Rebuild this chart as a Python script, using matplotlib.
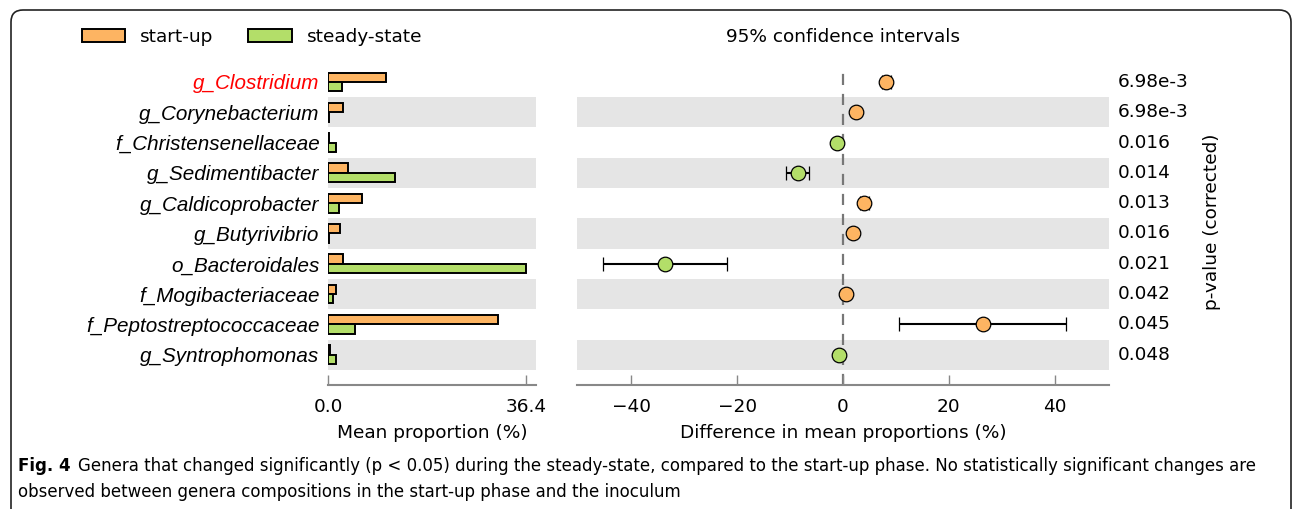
import numpy as np
import matplotlib
matplotlib.use('Agg')
import matplotlib.pyplot as plt
from matplotlib.patches import FancyBboxPatch, Patch

taxa = ['g_Clostridium', 'g_Corynebacterium', 'f_Christensenellaceae', 'g_Sedimentibacter',
        'g_Caldicoprobacter', 'g_Butyrivibrio', 'o_Bacteroidales', 'f_Mogibacteriaceae',
        'f_Peptostreptococcaceae', 'g_Syntrophomonas']
startup = [10.7, 2.7, 0.2, 3.7, 6.2, 2.2, 2.7, 1.4, 31.3, 0.3]
steady = [2.6, 0.1, 1.4, 12.3, 2.1, 0.1, 36.4, 0.9, 4.9, 1.4]
diff = [8.1, 2.5, -1.2, -8.6, 4.0, 1.8, -33.7, 0.6, 26.4, -0.8]
ci_low = [7.3, 2.1, -1.5, -10.7, 3.2, 1.5, -45.4, 0.3, 10.6, -1.1]
ci_high = [9.1, 2.9, -0.9, -6.5, 5.0, 2.1, -22.0, 0.9, 42.2, -0.5]
pvals = ['6.98e-3', '6.98e-3', '0.016', '0.014', '0.013', '0.016', '0.021', '0.042', '0.045', '0.048']

c_start = '#fdb462'
c_steady = '#b3de69'
band = '#e5e5e5'
spine_c = '#888888'
fs = 13.3

W, H = 1296, 509
fig = plt.figure(figsize=(W / 100, H / 100), dpi=100)

def fx(px):
    return px / W

def fy(py):
    return 1 - py / H

# rounded frame (drawn in inches), bottom edge runs off the picture
frame = FancyBboxPatch((0.11, -0.4), 12.80, 5.39,
                       boxstyle='round,pad=0,rounding_size=0.12',
                       transform=fig.dpi_scale_trans,
                       fill=False, edgecolor='#222222', linewidth=1.2)
fig.patches.append(frame)

n = len(taxa)
y = np.arange(n)
top_px, bot_px = 66.8, 385
ax_b = fy(bot_px)
ax_h = fy(top_px) - fy(bot_px)
ylim = (n - 0.5 + 0.5, -0.5)

ax1 = fig.add_axes([fx(328), ax_b, fx(536) - fx(328), ax_h])
ax2 = fig.add_axes([fx(577), ax_b, fx(1109) - fx(577), ax_h])

for ax in (ax1, ax2):
    for i in range(n):
        if i % 2 == 1:
            ax.axhspan(i - 0.5, i + 0.5, color=band, lw=0, zorder=0)
    ax.set_ylim(*ylim)
    for s in ['top', 'right', 'left']:
        ax.spines[s].set_visible(False)
    ax.spines['bottom'].set_color(spine_c)
    ax.spines['bottom'].set_linewidth(1.5)
    ax.tick_params(axis='x', direction='in', length=7, width=1, color=spine_c,
                   labelsize=fs, pad=9)
    ax.tick_params(axis='y', length=0)

# bars
h = 0.31
ax1.barh(y - h / 2, startup, height=h, color=c_start, edgecolor='black', linewidth=1.4, zorder=2)
ax1.barh(y + h / 2, steady, height=h, color=c_steady, edgecolor='black', linewidth=1.4, zorder=2)
ax1.set_xlim(0, 36.4 * 1.05)
ax1.set_xticks([0, 36.4])
ax1.set_xticklabels(['0.0', '36.4'])
ax1.set_yticks(y)
ax1.set_yticklabels(taxa, fontsize=14.9, style='italic', family='Liberation Sans')
ax1.tick_params(axis='y', pad=6)
ax1.get_yticklabels()[0].set_color('red')
ax1.set_xlabel('Mean proportion (%)', fontsize=fs, labelpad=6)

# confidence intervals
ax2.axvline(0, color='#777777', lw=1.6, ls=(0, (5, 4)), zorder=1)
for i in range(n):
    col = c_start if diff[i] > 0 else c_steady
    ax2.errorbar(diff[i], y[i], xerr=[[diff[i] - ci_low[i]], [ci_high[i] - diff[i]]],
                 fmt='o', color='black', ecolor='black', elinewidth=1.5, capsize=5,
                 capthick=1.2, markersize=10.5, markerfacecolor=col,
                 markeredgecolor='black', markeredgewidth=0.9, zorder=3)
ax2.set_xlim(-50.3, 50.3)
ax2.set_xticks([-40, -20, 0, 20, 40])
ax2.set_yticks([])
ax2.set_xlabel('Difference in mean proportions (%)', fontsize=fs, labelpad=6)
ax2.set_title('95% confidence intervals', fontsize=fs, pad=18)

for i in range(n):
    ax2.text(1.0 + fx(1118 - 1109) / (fx(1109) - fx(577)), y[i], pvals[i],
             transform=ax2.get_yaxis_transform(), va='center', ha='left', fontsize=fs)
fig.text(fx(1212), fy(222), 'p-value (corrected)', rotation=90, ha='center', va='center',
         fontsize=fs)

# legend
handles = [Patch(facecolor=c_start, edgecolor='black', lw=1.4, label='start-up'),
           Patch(facecolor=c_steady, edgecolor='black', lw=1.4, label='steady-state')]
fig.legend(handles=handles, loc='center left', bbox_to_anchor=(fx(65), fy(37)), ncol=2,
           frameon=False, fontsize=fs, handlelength=2.35, handleheight=0.7,
           columnspacing=1.9, handletextpad=0.8)

# caption, size fitted to the reference line width
cap_font = ['DejaVu Sans']
line1 = ('Genera that changed significantly (p < 0.05) during the steady-state, compared to the '
         'start-up phase. No statistically significant changes are')
line2 = 'observed between genera compositions in the start-up phase and the inoculum'
t1 = fig.text(fx(18), fy(466), 'Fig. 4', fontsize=13, fontweight='bold', family=cap_font,
              va='center', ha='left')
t2 = fig.text(fx(86), fy(466), line1, fontsize=13, family=cap_font,
              va='center', ha='left')
t3 = fig.text(fx(18), fy(492), line2, fontsize=13, family=cap_font,
              va='center', ha='left')
fig.canvas.draw()
r = fig.canvas.get_renderer()
scale = (1265 - 86) / t2.get_window_extent(r).width
csize = 13 * scale
for t in (t1, t2, t3):
    t.set_fontsize(csize)
fig.canvas.draw()
bb = t1.get_window_extent(r)
t2.set_x(bb.x1 / W + fx(7))

fig.savefig('out.png', dpi=100)
